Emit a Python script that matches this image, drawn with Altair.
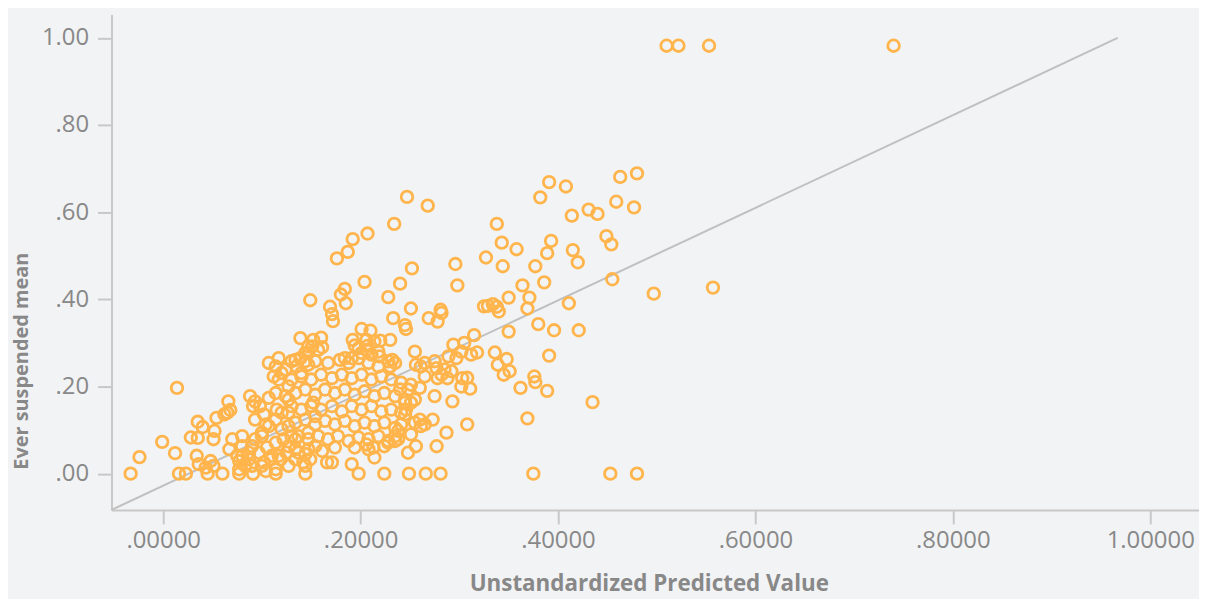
import altair as alt
import pandas as pd

# Unstandardized predicted value (x) and "Ever suspended" mean (y)
pred_x = [
    0.510, 0.522, 0.553, 0.740,
    0.480, 0.463, 0.391, 0.408, 0.382, 0.459, 0.477, 0.431, 0.440, 0.414, 0.338, 0.449, 0.454, 0.343,
    0.393, 0.358, 0.389, 0.415, 0.327, 0.420, 0.344, 0.377, 0.364, 0.386, 0.455, 0.497, 0.557, 0.350,
    0.371, 0.369, 0.411, 0.325, 0.329, 0.334, 0.338, 0.340, 0.315, 0.350, 0.380, 0.396, 0.421, 0.318,
    0.312, 0.336, 0.348, 0.339, 0.351, 0.345, 0.391, 0.308, 0.311, 0.376, 0.377, 0.362, 0.389, 0.308,
    0.369, 0.435,
    0.247, 0.268, 0.234, 0.207, 0.192, 0.187, 0.176, 0.296, 0.252, 0.298, 0.240, 0.204, 0.184, 0.180,
    0.185, 0.228, 0.149, 0.169, 0.251, 0.281,
    0.171, 0.172, 0.233, 0.245, 0.246, 0.269, 0.278, 0.282, 0.201, 0.210, 0.160, 0.152, 0.147, 0.192,
    0.194, 0.206, 0.207, 0.214, 0.220, 0.230, 0.255, 0.294, 0.305, 0.289, 0.297, 0.232, 0.219, 0.211,
    0.201, 0.191, 0.184, 0.179, 0.139, 0.157, 0.161,
    0.198, 0.206, 0.218, 0.265, 0.275, 0.302, 0.139, 0.135, 0.147, 0.154, 0.167, 0.188, 0.198, 0.208,
    0.218, 0.228, 0.235, 0.261, 0.265, 0.278, 0.288, 0.303, 0.302, 0.292, 0.275, 0.293, 0.287, 0.277,
    0.256, 0.248, 0.214, 0.191, 0.171, 0.166, 0.137, 0.142,
    0.130, 0.140, 0.150, 0.160, 0.171, 0.181, 0.191, 0.201, 0.211, 0.221, 0.231, 0.241, 0.251, 0.260,
    0.134, 0.144, 0.154, 0.164, 0.174, 0.184, 0.194, 0.204, 0.214, 0.224, 0.235, 0.245, 0.255,
    0.130, 0.140, 0.150, 0.160, 0.171, 0.181, 0.191, 0.201, 0.211, 0.221, 0.231, 0.241,
    0.134, 0.144, 0.154, 0.164, 0.174, 0.184, 0.194, 0.204, 0.214, 0.224, 0.235, 0.255, 0.265, 0.273,
    0.137, 0.147, 0.157, 0.167, 0.177, 0.188, 0.198, 0.208, 0.218, 0.228, 0.238, 0.251,
    0.147, 0.161, 0.174, 0.194, 0.208, 0.224,
    0.228, 0.206, 0.282, 0.285, 0.277, 0.256, 0.260, 0.261, 0.238, 0.241, 0.235, 0.245, 0.230, 0.240,
    0.248, 0.251, 0.245, 0.246,
    -0.024, 0.077, 0.090, 0.100, 0.104, 0.114, 0.119, 0.110, 0.144, 0.213, 0.235,
    0.014, -0.001, 0.012, 0.066, 0.065, 0.068, 0.062, 0.054, 0.035, 0.040, 0.028, 0.035, 0.052, 0.051,
    0.034, 0.036, 0.048, 0.051, 0.043, 0.070, 0.067, 0.075, 0.083, 0.088, 0.093, 0.098, 0.107, 0.114,
    0.117, 0.107, 0.114, 0.120, 0.127, 0.140, 0.144, 0.130, 0.124, 0.127, 0.127, 0.152, 0.154, 0.127,
    0.120, 0.114, 0.107, 0.100, 0.093, 0.090, 0.097, 0.105, 0.114, 0.122, 0.130, 0.147, 0.154, 0.134,
    0.125, 0.117, 0.109, 0.102, 0.087, 0.080, 0.127, 0.134, 0.149,
    0.091, 0.102, 0.115, 0.093, 0.104, 0.120, 0.117, 0.112, 0.134, 0.144, 0.124, 0.080, 0.100, 0.080,
    0.087, 0.077, 0.127, 0.144, 0.134, 0.151, 0.147,
    -0.033, 0.016, 0.023, 0.045, 0.060, 0.077, 0.091, 0.114, 0.144, 0.198, 0.224, 0.249, 0.266, 0.281,
    0.375, 0.453, 0.480,
]
mean_y = [
    0.982, 0.982, 0.982, 0.982,
    0.689, 0.681, 0.669, 0.659, 0.634, 0.624, 0.611, 0.606, 0.596, 0.592, 0.573, 0.545, 0.526, 0.530,
    0.534, 0.515, 0.506, 0.513, 0.496, 0.485, 0.476, 0.476, 0.432, 0.439, 0.446, 0.413, 0.427, 0.404,
    0.404, 0.379, 0.391, 0.384, 0.385, 0.389, 0.383, 0.372, 0.318, 0.326, 0.343, 0.329, 0.329, 0.278,
    0.273, 0.278, 0.263, 0.250, 0.235, 0.227, 0.271, 0.220, 0.195, 0.223, 0.210, 0.197, 0.190, 0.113,
    0.127, 0.164,
    0.635, 0.615, 0.573, 0.551, 0.538, 0.509, 0.494, 0.481, 0.471, 0.432, 0.436, 0.440, 0.424, 0.411,
    0.391, 0.405, 0.398, 0.383, 0.379, 0.376,
    0.366, 0.350, 0.357, 0.341, 0.332, 0.357, 0.349, 0.369, 0.332, 0.328, 0.312, 0.307, 0.292, 0.307,
    0.294, 0.307, 0.293, 0.303, 0.305, 0.307, 0.280, 0.296, 0.300, 0.269, 0.265, 0.261, 0.269, 0.273,
    0.277, 0.265, 0.265, 0.261, 0.311, 0.284, 0.290,
    0.288, 0.284, 0.280, 0.254, 0.258, 0.280, 0.265, 0.246, 0.250, 0.258, 0.254, 0.254, 0.265, 0.254,
    0.246, 0.258, 0.254, 0.246, 0.223, 0.219, 0.219, 0.219, 0.200, 0.235, 0.178, 0.166, 0.094, 0.063,
    0.063, 0.048, 0.037, 0.022, 0.026, 0.026, 0.048, 0.026,
    0.216, 0.223, 0.216, 0.227, 0.219, 0.227, 0.219, 0.227, 0.216, 0.223, 0.216, 0.209, 0.204, 0.197,
    0.185, 0.193, 0.181, 0.193, 0.185, 0.193, 0.181, 0.189, 0.178, 0.185, 0.178, 0.170, 0.170,
    0.155, 0.147, 0.155, 0.147, 0.155, 0.143, 0.155, 0.147, 0.155, 0.143, 0.147, 0.140,
    0.117, 0.124, 0.113, 0.121, 0.113, 0.121, 0.109, 0.117, 0.109, 0.117, 0.105, 0.117, 0.113, 0.124,
    0.086, 0.079, 0.086, 0.079, 0.086, 0.075, 0.083, 0.079, 0.086, 0.075, 0.079, 0.090,
    0.056, 0.052, 0.060, 0.060, 0.056, 0.063,
    0.071, 0.067, 0.227, 0.239, 0.242, 0.250, 0.124, 0.109, 0.098, 0.113, 0.086, 0.136, 0.246, 0.193,
    0.193, 0.163, 0.163, 0.147,
    0.038, 0.029, 0.018, 0.018, 0.006, 0.010, 0.033, 0.041, 0.045, 0.060, 0.075,
    0.197, 0.073, 0.047, 0.166, 0.140, 0.146, 0.136, 0.128, 0.119, 0.107, 0.083, 0.082, 0.098, 0.079,
    0.041, 0.022, 0.029, 0.018, 0.014, 0.079, 0.056, 0.041, 0.018, 0.178, 0.166, 0.155, 0.174, 0.185,
    0.216, 0.254, 0.246, 0.231, 0.200, 0.231, 0.258, 0.258, 0.239, 0.170, 0.140, 0.163, 0.132, 0.109,
    0.102, 0.124, 0.109, 0.094, 0.079, 0.063, 0.048, 0.060, 0.071, 0.079, 0.086, 0.094, 0.063, 0.056,
    0.048, 0.041, 0.033, 0.026, 0.033, 0.041, 0.018, 0.033, 0.033,
    0.155, 0.136, 0.147, 0.124, 0.113, 0.140, 0.265, 0.223, 0.261, 0.277, 0.178, 0.086, 0.086, 0.063,
    0.048, 0.010, 0.063, 0.018, 0.079, 0.292, 0.277,
    0.000, 0.000, 0.000, 0.000, 0.000, 0.000, 0.000, 0.000, 0.000, 0.000, 0.000, 0.000, 0.000, 0.000,
    0.000, 0.000, 0.000,
]

# Reference line end points
line_x = [-0.0524, 0.967]
line_y = [-0.0833, 1.0]

x_ticks = [0.0, 0.2, 0.4, 0.6, 0.8, 1.0]
y_ticks = [0.0, 0.2, 0.4, 0.6, 0.8, 1.0]

points = pd.DataFrame({"pred": pred_x, "mean": mean_y})
line_df = pd.DataFrame({"pred": line_x, "mean": line_y})

FONT = "Open Sans"
GRAY = "#888888"
AXIS = "#c8c8c8"

x_scale = alt.Scale(domain=[-0.0524, 1.0494], nice=False, zero=False)
y_scale = alt.Scale(domain=[-0.0833, 1.0537], nice=False, zero=False)

x_axis = alt.Axis(
    values=x_ticks,
    labelExpr="datum.value < 0.999 ? substring(format(datum.value, '.5f'), 1) : format(datum.value, '.5f')",
    grid=False, domainColor=AXIS, domainWidth=2, tickColor=AXIS, tickWidth=2, tickSize=14,
    labelFont=FONT, labelFontSize=24, labelColor=GRAY, labelPadding=5,
    title="Unstandardized Predicted Value", titleFont=FONT, titleFontSize=22.5,
    titleFontWeight="bold", titleColor=GRAY, titleX=540, titleY=81,
    titleBaseline="alphabetic", titleAlign="center",
)
y_axis = alt.Axis(
    values=y_ticks,
    labelExpr="datum.value < 0.999 ? substring(format(datum.value, '.2f'), 1) : format(datum.value, '.2f')",
    grid=False, domainColor=AXIS, domainWidth=2, tickColor=AXIS, tickWidth=2, tickSize=14,
    labelFont=FONT, labelFontSize=24, labelColor=GRAY, labelPadding=9,
    title="Ever suspended mean", titleFont=FONT, titleFontSize=20,
    titleFontWeight="bold", titleColor=GRAY, titleAngle=270, titleX=-84, titleY=348,
    titleBaseline="alphabetic", titleAlign="center",
)

line = alt.Chart(line_df).mark_line(color="#c0c0c0", strokeWidth=2).encode(
    x=alt.X("pred:Q", scale=x_scale, axis=x_axis),
    y=alt.Y("mean:Q", scale=y_scale, axis=y_axis),
)

dots = alt.Chart(points).mark_point(
    shape="circle", filled=False, size=135, strokeWidth=2.8, color="#ffb54c", opacity=1
).encode(
    x=alt.X("pred:Q", scale=x_scale),
    y=alt.Y("mean:Q", scale=y_scale),
)

chart = alt.layer(line, dots).properties(
    width=1093, height=498, background="#f2f3f5",
    autosize=alt.AutoSizeParams(type="none"),
    padding={"left": 104, "top": 5, "right": 0, "bottom": 88},
).configure_view(stroke=None)

chart.save("out.html", embed_options={"renderer": "svg", "actions": False})
